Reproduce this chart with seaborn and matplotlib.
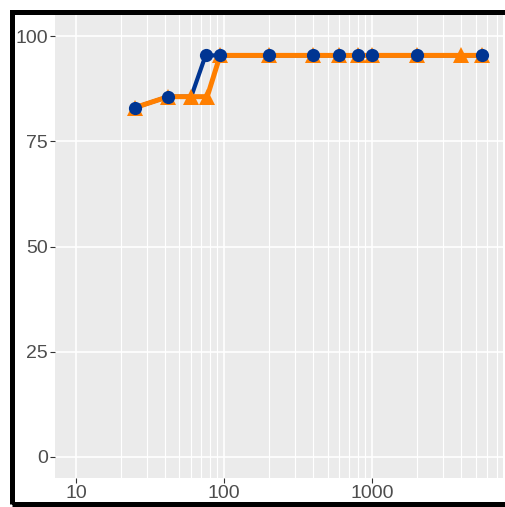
import matplotlib
matplotlib.use('Agg')
import matplotlib.pyplot as plt
import matplotlib.ticker as mticker
from matplotlib.patches import Rectangle
import seaborn as sns
import pandas as pd

# orange series (triangles)
orange_x = [25, 42, 60, 77, 94, 200, 400, 600, 800, 1000, 2000, 4000, 5500]
orange_y = [83.0, 85.6, 85.6, 85.6, 95.4, 95.4, 95.4, 95.4, 95.4, 95.4, 95.4, 95.4, 95.4]
# blue series (circles)
blue_x = [25, 42, 60, 75, 94, 200, 400, 600, 800, 1000, 2000, 5500]
blue_y = [83.0, 85.6, 85.6, 95.4, 95.4, 95.4, 95.4, 95.4, 95.4, 95.4, 95.4, 95.4]
blue_no_marker = [60]

y_ticks = [0, 25, 50, 75, 100]
x_ticks = [10, 100, 1000]

ORANGE = '#FF7F00'
BLUE = '#003592'

sns.set_style('darkgrid', {'axes.facecolor': '#EBEBEB', 'grid.color': 'white'})
plt.rcParams['font.family'] = ['Liberation Sans', 'DejaVu Sans']

orange = pd.DataFrame({'x': orange_x, 'y': orange_y})
blue = pd.DataFrame({'x': blue_x, 'y': blue_y})

fig = plt.figure(figsize=(5.05, 5.07), dpi=100)
ax = fig.add_axes([55 / 505, 29 / 507, 448 / 505, 463 / 507])

sns.lineplot(x='x', y='y', data=blue, color=BLUE, linewidth=3.0, ax=ax, zorder=3)
sns.lineplot(x='x', y='y', data=orange, color=ORANGE, linewidth=3.6, marker='^',
             markersize=11, markeredgewidth=0, ax=ax, zorder=4)
pts = blue[~blue['x'].isin(blue_no_marker)]
ax.plot(pts['x'], pts['y'], linestyle='none', marker='o', markersize=9.5,
        color=BLUE, markeredgewidth=0, zorder=5)

ax.set_xscale('log')
ax.set_xlim(7.22, 7640)
ax.set_ylim(-5, 105)
ax.xaxis.set_major_locator(mticker.FixedLocator(x_ticks))
ax.xaxis.set_major_formatter(mticker.FixedFormatter([str(v) for v in x_ticks]))
ax.xaxis.set_minor_locator(mticker.FixedLocator([m * 10 ** k for k in (1, 2, 3) for m in range(2, 10)]))
ax.xaxis.set_minor_formatter(mticker.NullFormatter())
ax.set_yticks(y_ticks)
ax.set_yticklabels([str(v) for v in y_ticks])

ax.grid(which='major', color='white', linewidth=1.2)
ax.grid(which='minor', axis='x', color='white', linewidth=0.8)
ax.set_axisbelow(True)
for s in ax.spines.values():
    s.set_visible(False)

ax.tick_params(which='major', left=True, bottom=True, direction='out', length=3.5,
               width=0.8, color='#333333', labelsize=14, labelcolor='#4D4D4D', pad=1.5)
ax.tick_params(which='minor', length=0)
ax.set_xlabel('')
ax.set_ylabel('')

# black frame round the plot (cut off on the right)
fig.patches.append(Rectangle((11.8, 3.5), 520, 492, transform=None, fill=False,
                             edgecolor='black', linewidth=3.6, zorder=10))

fig.savefig('out.png', dpi=100)
